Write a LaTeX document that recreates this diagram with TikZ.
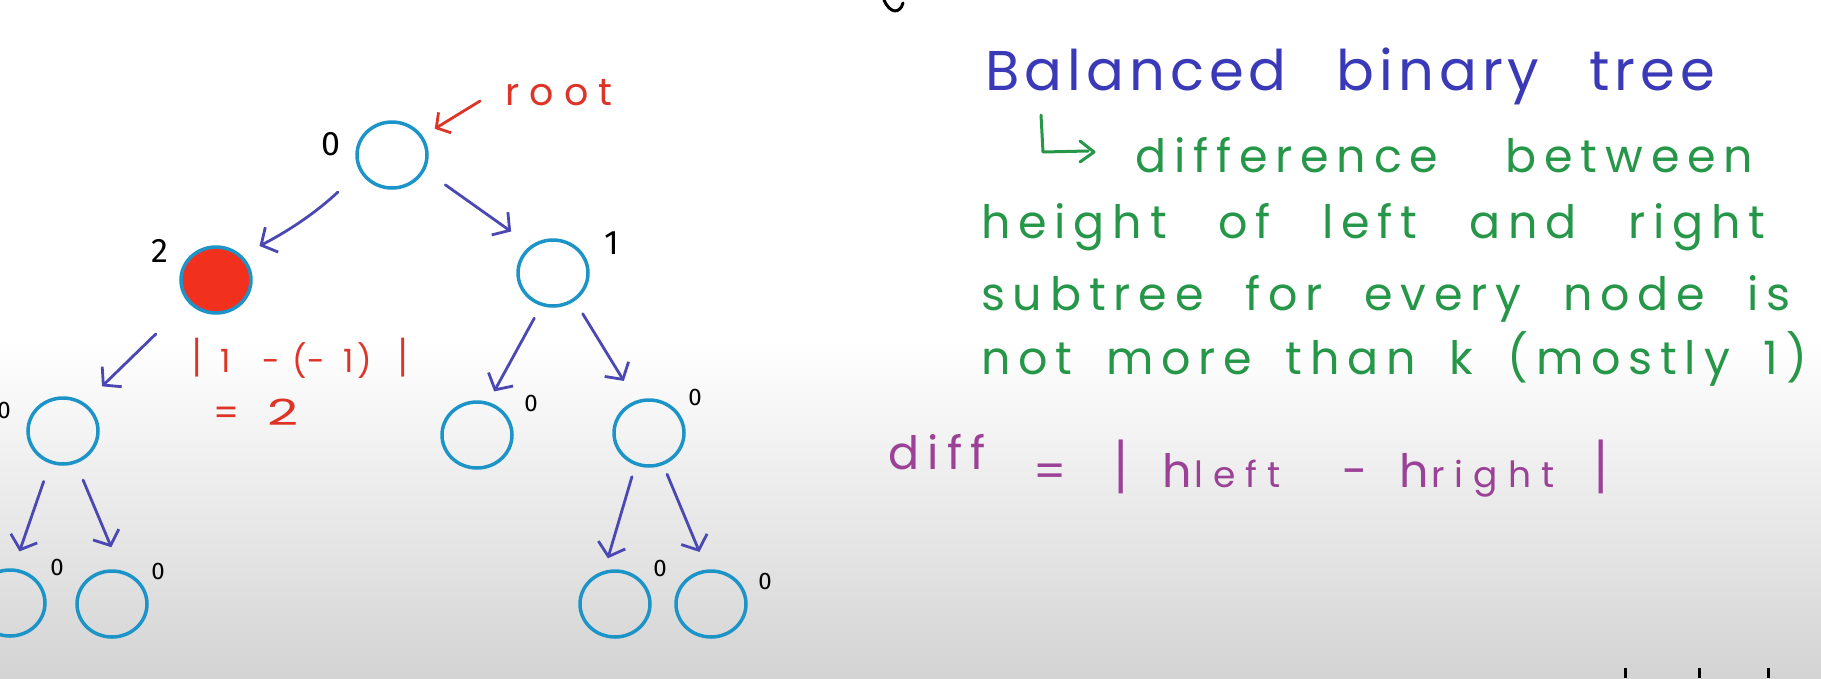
\documentclass[tikz,border=0pt]{standalone}
\usepackage{fontspec}
\setmainfont{Fira Sans}
\newfontfamily\handfont{Poppins}
\usetikzlibrary{shapes.geometric,arrows.meta}
\definecolor{titleblue}{RGB}{58,58,185}
\definecolor{handgreen}{RGB}{38,150,72}
\definecolor{handpurple}{RGB}{155,65,150}
\definecolor{handred}{RGB}{222,52,40}
\definecolor{arrblue}{RGB}{75,72,180}
\definecolor{circblue}{RGB}{28,148,200}
\definecolor{redfill}{RGB}{242,48,30}
\tikzset{
  tnode/.style={ellipse, draw=circblue, line width=3.5pt, minimum width=70pt, minimum height=66pt, inner sep=0pt},
  arr/.style={draw=arrblue, line width=2.8pt, line cap=round, -{Straight Barb[length=12pt,width=28pt]}},
  redarr/.style={draw=handred, line width=2.8pt, line cap=round, -{Straight Barb[length=10pt,width=24pt]}},
  numlbl/.style={inner sep=0pt, text=black, font=\fontsize{34}{34}\selectfont},
  smallnum/.style={inner sep=0pt, text=black, font=\fontsize{24}{24}\selectfont},
  greentext/.style={inner sep=0pt, anchor=base west, text=handgreen, font=\handfont\addfontfeatures{LetterSpace=17}\fontsize{46}{46}\selectfont},
  redtext/.style={inner sep=0pt, anchor=base west, text=handred},
}
\newcommand{\tallbar}{\scalebox{1}[1.35]{|}}
\begin{document}
\begin{tikzpicture}[x=1pt,y=-1pt]
\useasboundingbox (0,0) rectangle (1821,678);
\fill[white] (0,0) rectangle (1821,678);
\foreach \i in {0,...,84} {
  \pgfmathsetmacro{\shadeval}{17*\i/84}
  \fill[black!\shadeval] (0,{340+4*\i}) rectangle (1821,{344.5+4*\i});
}
% tree nodes
\node[tnode] (root) at (392,155) {};
\node[tnode, fill=redfill] (red) at (216,280) {};
\node[tnode] (n1) at (553,273) {};
\node[tnode] (ll) at (63,431) {};
\node[tnode] (rl) at (477,435) {};
\node[tnode] (rr) at (649,433) {};
\node[tnode] (bl1) at (10,603) {};
\node[tnode] (bl2) at (112,604) {};
\node[tnode] (br1) at (615,604) {};
\node[tnode] (br2) at (711,604) {};
% connectors
\draw[arr, shorten <=30pt, shorten >=20pt] (root.207) to[bend left=8] (red.44);
\draw[arr, shorten <=25pt, shorten >=24pt] (root.335) -- (n1.129);
\draw[arr, shorten <=45pt, shorten >=24pt] (red.219) -- (ll.52);
\draw[arr, shorten <=14pt, shorten >=12pt] (n1.250) -- (rl.71);
\draw[arr, shorten <=15pt, shorten >=23pt] (n1.308) -- (rr.112);
\draw[arr, shorten <=19pt, shorten >=18pt] (ll.248) -- (bl1.84);
\draw[arr, shorten <=18pt, shorten >=25pt] (ll.292) -- (bl2.75);
\draw[arr, shorten <=12pt, shorten >=13pt] (rr.247) -- (br1.108);
\draw[arr, shorten <=10pt, shorten >=19pt] (rr.294) -- (br2.97);
% height labels
\node[numlbl] (lroot) at (331,144) {0};
\node[numlbl] (lred) at (160,251) {2};
\node[numlbl] (ln1) at (612,243) {1};
\node[smallnum] (lll) at (4,410) {0};
\node[smallnum] (lrl) at (531,403) {0};
\node[smallnum] (lrr) at (695,397) {0};
\node[smallnum] (lbl1) at (57,567) {0};
\node[smallnum] (lbl2) at (158,571) {0};
\node[smallnum] (lbr1) at (660,568) {0};
\node[smallnum] (lbr2) at (765,581) {0};
% red annotations
\node[redtext, font=\handfont\addfontfeatures{LetterSpace=27}\fontsize{38}{38}\selectfont] (rootlbl) at (505,105) {root};
\coordinate (rootarr) at (480,101);
\draw[redarr, shorten >=14pt] (rootarr) -- (root);
\node[redtext, font=\handfont\fontsize{32}{32}\selectfont] (calc1) at (192,372)
  {\makebox[28pt][l]{\tallbar}\makebox[42pt][l]{1}\makebox[30pt][l]{-}\makebox[15pt][l]{(}\makebox[36pt][l]{-}\makebox[14pt][l]{1}\makebox[41pt][l]{)}\tallbar};
\node[redtext, font=\handfont\fontsize{36}{36}\selectfont] (calc2) at (213,425) {\makebox[54pt][l]{=}\scalebox{1.5}[1]{2}};
% right-hand text
\node[inner sep=0pt, anchor=base west, text=titleblue, font=\handfont\addfontfeatures{LetterSpace=9}\fontsize{56}{56}\selectfont] (title) at (985,90) {\makebox[730pt][s]{Balanced binary tree}};
\draw[handgreen, line width=3pt, line cap=round, line join=round] (1041,115) -- (1043,152) -- (1088,151);
\draw[handgreen, line width=3pt, line cap=round, line join=round] (1080,141) -- (1094,152) -- (1080,162);
\node[greentext] (line2) at (1135,172) {\makebox[618pt][s]{difference between}};
\node[greentext] (line3) at (981,238) {\makebox[784pt][s]{height of left and right}};
\node[greentext] (line4) at (981,310) {\makebox[809pt][s]{subtree for every node is}};
\node[greentext] (line5) at (981,374) {\makebox[826pt][s]{not more than k (mostly 1)}};
\node[inner sep=0pt, anchor=base west, text=handpurple, font=\handfont\addfontfeatures{LetterSpace=18}\fontsize{46}{46}\selectfont] (line6) at (888,487)
  {\makebox[145pt][l]{\raisebox{18pt}{diff}}\makebox[81pt][l]{=}\makebox[48pt][l]{\scalebox{1}[1.3]{|}}\makebox[32pt][l]{h}\makebox[148pt][l]{\addfontfeatures{LetterSpace=28}\fontsize{36}{36}\selectfont left}\makebox[57pt][l]{-}\makebox[32pt][l]{h}\makebox[163pt][l]{\addfontfeatures{LetterSpace=28}\fontsize{36}{36}\selectfont right}\scalebox{1}[1.3]{|}};
% stray marks at the edges
\draw[black, line width=3pt, line cap=round] (884,0) .. controls (890,14) and (900,14) .. (903,3);
\draw[black, line width=3pt] (1625,668) -- (1625,678);
\draw[black, line width=3pt] (1699,668) -- (1699,678);
\draw[black, line width=3pt] (1768,668) -- (1768,678);
\end{tikzpicture}
\end{document}
